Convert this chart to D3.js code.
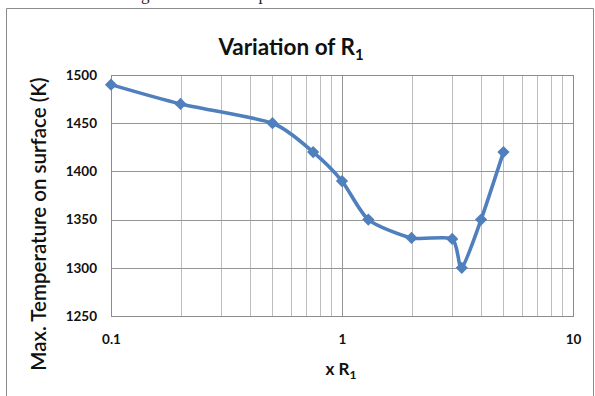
<!DOCTYPE html>
<html><head><meta charset="utf-8">
<script src="https://cdn.jsdelivr.net/npm/d3@7"></script>
<style>body{margin:0;background:#fff}svg{display:block}</style>
</head><body>
<script>
const xValues = [0.1, 0.2, 0.5, 0.75, 1, 1.3, 2, 3, 3.3, 4, 5];
const yValues = [1490, 1470, 1450, 1420, 1390, 1350, 1331, 1330, 1300, 1350, 1420];
const yTicks = [1250, 1300, 1350, 1400, 1450, 1500];
const xTickLabels = [0.1, 1, 10];

const W = 595, H = 396;
const svg = d3.select("body").append("svg").attr("width", W).attr("height", H);

// clipped caption remnant at top (cut by the image edge, as in the reference)
svg.append("text").attr("x", 300).attr("y", 0).attr("text-anchor", "middle")
  .attr("font-family", "Liberation Serif").attr("font-size", 17).attr("fill", "#222")
  .text("Fig. Maximum temperature on the surface of CWS");

// outer frame
svg.append("path").attr("d", "M6.5,396 V8.5 H593.5 V396").attr("fill", "none")
  .attr("stroke", "#8c8c8c").attr("stroke-width", 1);

const x = d3.scaleLog().domain([0.1, 10]).range([111, 573]);
const y = d3.scaleLinear().domain([1250, 1500]).range([316, 75]);

const g = svg.append("g");
const vt = [];
for (let d = 0.1; d < 10; d *= 10) for (let k = 1; k <= 9; k++) vt.push(+(d * k).toFixed(3));
vt.push(10);
g.selectAll(".vg").data(vt).join("line")
  .attr("x1", d => Math.round(x(d)) + 0.5).attr("x2", d => Math.round(x(d)) + 0.5)
  .attr("y1", y(1500)).attr("y2", y(1250))
  .attr("stroke", d => (Math.abs(Math.log10(d) - Math.round(Math.log10(d))) < 1e-6) ? "#959595" : "#bdbdbd")
  .attr("stroke-width", 1);
g.selectAll(".hg").data(yTicks).join("line")
  .attr("x1", x(0.1)).attr("x2", x(10))
  .attr("y1", d => Math.round(y(d)) + 0.5).attr("y2", d => Math.round(y(d)) + 0.5)
  .attr("stroke", "#959595").attr("stroke-width", 1);
g.append("rect").attr("x", Math.round(x(0.1)) + 0.5).attr("y", Math.round(y(1500)) + 0.5)
  .attr("width", Math.round(x(10)) - Math.round(x(0.1))).attr("height", Math.round(y(1250)) - Math.round(y(1500)))
  .attr("fill", "none").attr("stroke", "#8c8c8c");

const yAxis = svg.append("g").attr("transform", `translate(${x(0.1)},0)`)
  .call(d3.axisLeft(y).tickValues(yTicks).tickSize(0).tickPadding(14).tickFormat(d3.format("d")));
yAxis.select(".domain").remove();
yAxis.selectAll("text").attr("font-family", "Lato, 'Liberation Sans'").attr("font-weight", "bold")
  .attr("font-size", 13.5).attr("fill", "#111");

const xAxis = svg.append("g").attr("transform", `translate(0,${y(1250)})`)
  .call(d3.axisBottom(x).tickValues(xTickLabels).tickSize(0).tickPadding(18).tickFormat(d => String(d)));
xAxis.select(".domain").remove();
xAxis.selectAll("text").attr("font-family", "Lato, 'Liberation Sans'").attr("font-weight", "bold")
  .attr("font-size", 13.5).attr("fill", "#111");

const t = svg.append("text").attr("x", 291).attr("y", 55).attr("text-anchor", "middle")
  .attr("font-family", "Lato, 'Liberation Sans'").attr("font-weight", "bold").attr("font-size", 22.5).attr("fill", "#111");
t.append("tspan").text("Variation of R");
t.append("tspan").attr("font-size", 15).attr("dy", 5).text("1");

const xt = svg.append("text").attr("x", 341).attr("y", 375).attr("text-anchor", "middle")
  .attr("font-family", "Lato, 'Liberation Sans'").attr("font-weight", "bold").attr("font-size", 17).attr("fill", "#111");
xt.append("tspan").text("x  R");
xt.append("tspan").attr("font-size", 12).attr("dy", 4).text("1");

svg.append("text").attr("transform", "translate(46,224) rotate(-90)").attr("text-anchor", "middle")
  .attr("font-family", "Lato, 'Liberation Sans'").attr("font-weight", "600").attr("font-size", 20.5).attr("fill", "#111")
  .text("Max. Temperature on surface (K)");

const data = xValues.map((v, i) => [v, yValues[i]]);
const line = d3.line().x(d => x(d[0])).y(d => y(d[1])).curve(d3.curveCardinal.tension(0.3));
svg.append("path").datum(data).attr("d", line).attr("fill", "none")
  .attr("stroke", "#4f7fbd").attr("stroke-width", 3.6).attr("stroke-linejoin", "round");
svg.selectAll(".pt").data(data).join("path")
  .attr("d", d3.symbol(d3.symbolDiamond2, 95))
  .attr("transform", d => `translate(${x(d[0])},${y(d[1])})`)
  .attr("fill", "#4f7fbd");
</script>
</body></html>
